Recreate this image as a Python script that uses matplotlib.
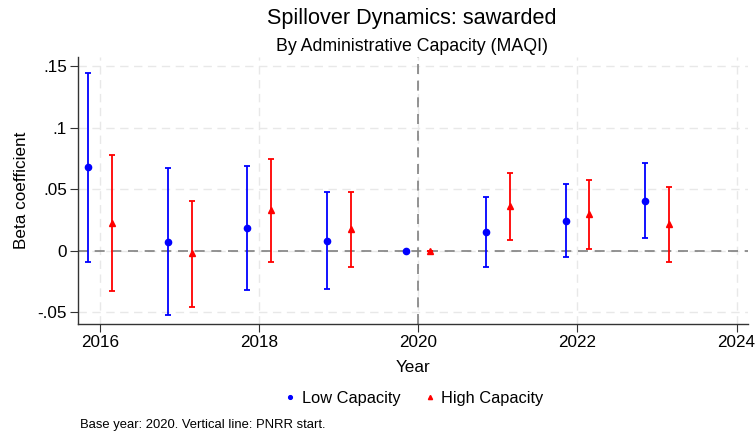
import matplotlib
matplotlib.use("Agg")
import matplotlib.pyplot as plt
import numpy as np

plt.rcParams['font.family'] = ['Liberation Sans', 'DejaVu Sans']

years = [2016, 2017, 2018, 2019, 2020, 2021, 2022, 2023]
low_coef = [0.0675, 0.0073, 0.0182, 0.0079, 0.0, 0.0149, 0.0242, 0.0405]
low_upper = [0.144, 0.067, 0.069, 0.0479, 0.0, 0.0435, 0.0538, 0.0712]
low_lower = [-0.009, -0.052, -0.032, -0.0312, 0.0, -0.013, -0.0049, 0.010]
high_coef = [0.0226, -0.0024, 0.0326, 0.0177, 0.0, 0.0361, 0.0296, 0.0215]
high_upper = [0.078, 0.0405, 0.074, 0.0479, 0.0, 0.063, 0.0577, 0.0516]
high_lower = [-0.0332, -0.046, -0.009, -0.013, 0.0, 0.0087, 0.0016, -0.0095]

y_ticks = [-0.05, 0, 0.05, 0.1, 0.15]
y_labels = ['-.05', '0', '.05', '.1', '.15']
x_ticks = [2016, 2018, 2020, 2022, 2024]

fig = plt.figure(figsize=(7.56, 4.38), dpi=100)
ax = fig.add_axes([0.103, 0.26, 0.886, 0.609])

yrs = np.array(years, dtype=float)
offset = 0.15

def draw(x, c, lo, hi, color, marker, label, ms):
    c = np.array(c); lo = np.array(lo); hi = np.array(hi)
    ax.errorbar(x, c, yerr=[c - lo, hi - c], fmt='none', ecolor=color,
                elinewidth=1.3, capsize=2.5, capthick=1.3, zorder=3)
    ax.plot(x, c, linestyle='none', marker=marker, color=color,
            markersize=ms, zorder=4, label=label)

draw(yrs - offset, low_coef, low_lower, low_upper, '#0000ff', 'o', 'Low Capacity', 4.5)
draw(yrs + offset, high_coef, high_lower, high_upper, '#ff0000', '^', 'High Capacity', 5)

ax.axhline(0, color='#808080', linestyle=(0, (6, 4)), linewidth=1.2, zorder=2)
ax.axvline(2020, color='#808080', linestyle=(0, (6, 4)), linewidth=1.2, zorder=2)

ax.set_xlim(2015.72, 2024.14)
ax.set_ylim(-0.0598, 0.157)
ax.set_xticks(x_ticks)
ax.set_xticklabels([str(t) for t in x_ticks], fontsize=12.3)
ax.set_yticks(y_ticks)
ax.set_yticklabels(y_labels, fontsize=12.3)
ax.grid(True, color='#e8e8e8', linestyle=(0, (6, 4)), linewidth=1.0, zorder=0)
ax.set_axisbelow(True)
for s in ['top', 'right']:
    ax.spines[s].set_visible(False)
for s in ['left', 'bottom']:
    ax.spines[s].set_color('#333333')
    ax.spines[s].set_linewidth(1.0)
ax.tick_params(length=6, color='#333333', width=0.8, pad=2)
ax.set_xlabel('Year', fontsize=12.3, labelpad=7)
ax.set_ylabel('Beta coefficient', fontsize=12.3, labelpad=6)

fig.text(0.545, 0.957, 'Spillover Dynamics: sawarded', ha='center', va='center', fontsize=15.6)
fig.text(0.545, 0.893, 'By Administrative Capacity (MAQI)', ha='center', va='center', fontsize=12.8)

fig.legend(loc='center', bbox_to_anchor=(0.546, 0.091), ncol=2, frameon=False,
           fontsize=11.8, handletextpad=0.2, columnspacing=1.3, markerscale=0.6,
           handlelength=1.0)

fig.text(0.106, 0.03, 'Base year: 2020. Vertical line: PNRR start.', ha='left', va='center', fontsize=9.4)

fig.savefig('out.png', dpi=100, facecolor='white')
